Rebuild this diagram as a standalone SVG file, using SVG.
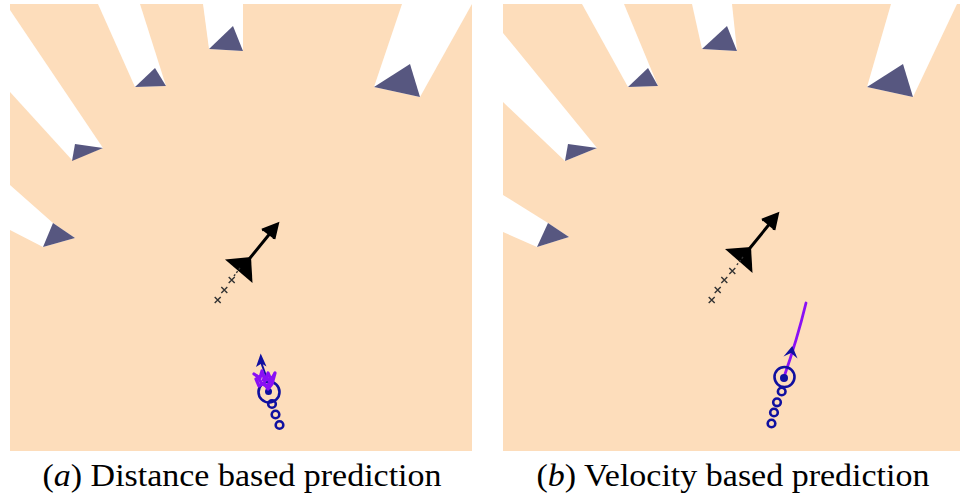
<svg xmlns="http://www.w3.org/2000/svg" width="960" height="499" viewBox="0 0 960 499">
<defs>
<style>
.bg{fill:#FDDDBB}
.beam{fill:#FFFFFF}
.obs{fill:#575780}
.robot{fill:#000000}
.shaft{stroke:#000000;stroke-width:3;fill:none;stroke-linecap:round}
.head{stroke:#000000;stroke-width:2.8;fill:#000000;stroke-linejoin:miter}
.xm{stroke:#333333;stroke-width:1.4;fill:none}
.dash{stroke:#333333;stroke-width:1.4;stroke-dasharray:2 2;fill:none}
.ring{stroke:#1010A0;stroke-width:2.6;fill:none}
.dot{fill:#1010A0}
.barrow{fill:#1010A0}
.purple{stroke:#8A10F5;fill:none;stroke-linecap:round;stroke-linejoin:round}
.cap{font-family:"Liberation Serif","Times New Roman",serif;font-size:32px;fill:#000000}
</style>
</defs>

<g id="panel-a">
  <rect class="bg" x="10" y="4" width="462" height="447"/>
  <g id="a-beams">
    <polygon class="beam" points="10,10 103,148 72,160 10,92"/>
    <polygon class="beam" points="98,4 140,4 166,86 135,87"/>
    <polygon class="beam" points="203,4 243,4 243,51 209,49"/>
    <polygon class="beam" points="402,4 472,4 420,97 374,87"/>
    <polygon class="beam" points="10,185 53,223 75,238 43,247 10,230"/>
  </g>
  <g id="a-obstacles">
    <polygon class="obs" points="75,144 103,148 72,161"/>
    <polygon class="obs" points="135,87 166,86 155,68"/>
    <polygon class="obs" points="209,49 243,51 233,26"/>
    <polygon class="obs" points="374,87 420,97 410,64"/>
    <polygon class="obs" points="43,247 75,238 53,223"/>
  </g>
  <g id="a-robot-black">
    <polygon class="robot" points="225,259.5 251,257 252.5,283"/>
    <line class="shaft" x1="250" y1="258" x2="276" y2="226"/>
    <polyline class="head" points="262,230 277.5,224 274,239"/>
    <line class="dash" x1="240" y1="268" x2="234" y2="276"/>
    <path class="xm" d="M228.7,277l6,6M234.7,277l-6,6 M221.3,287l6,6M227.3,287l-6,6 M214.7,297l6,6M220.7,297l-6,6"/>
  </g>
  <g id="a-robot-blue">
    <line x1="261" y1="362" x2="266" y2="376" stroke="#1010A0" stroke-width="2"/>
    <polygon class="barrow" points="260.7,353.5 256,367 261.5,363.5 266.5,366.5"/>
    <circle class="ring" cx="269" cy="392" r="10.5"/>
    <circle class="dot" cx="268.5" cy="391.5" r="3.5"/>
    <circle class="ring" cx="272" cy="404" r="3.8"/>
    <circle class="ring" cx="275.5" cy="414.5" r="3.8"/>
    <circle class="ring" cx="279.5" cy="425" r="3.8"/>
    <polyline class="purple" stroke-width="3.2" points="254,374 260,378 262,371 265,381 268,373 271,380 275,373 272,384 268,389 264,383 259,386 256,379"/>
    <polyline class="purple" stroke-width="3" points="257,376 262,384 267,386 270,382 266,377 263,380"/>
  </g>
</g>

<g id="panel-b">
  <rect class="bg" x="503" y="4" width="457" height="447"/>
  <g id="b-beams">
    <polygon class="beam" points="503,33 597,148 565,161 503,102"/>
    <polygon class="beam" points="582,4 624,4 658,86 628,87"/>
    <polygon class="beam" points="692,4 732,4 737,51 702,49"/>
    <polygon class="beam" points="891,4 957,4 913,97 867,87"/>
    <polygon class="beam" points="503,195 548,223 569,237 537,247 503,232"/>
  </g>
  <g id="b-obstacles">
    <polygon class="obs" points="568,144 597,148 565,161"/>
    <polygon class="obs" points="628,87 658,86 648,68"/>
    <polygon class="obs" points="702,49 737,51 727,26"/>
    <polygon class="obs" points="867,87 913,97 903,64"/>
    <polygon class="obs" points="537,247 569,237 548,223"/>
  </g>
  <g id="b-robot-black">
    <polygon class="robot" points="725,249 751,247 752.5,273"/>
    <line class="shaft" x1="750" y1="248" x2="776" y2="216"/>
    <polyline class="head" points="762,220 777.5,214 774,230"/>
    <line class="dash" x1="743" y1="257" x2="736" y2="266"/>
    <path class="xm" d="M729.3,268l6,6M735.3,268l-6,6 M721.3,277l6,6M727.3,277l-6,6 M714.7,287l6,6M720.7,287l-6,6 M708.7,297l6,6M714.7,297l-6,6"/>
  </g>
  <g id="b-robot-blue">
    <path class="purple" stroke-width="2.8" d="M806,303 Q797,340 784,377"/>
    <polygon class="barrow" points="792.3,346 783.5,356.5 791,353 797.5,358.5"/>
    <circle class="ring" cx="784.5" cy="377" r="10"/>
    <circle class="dot" cx="784" cy="378" r="4"/>
    <circle class="ring" cx="781.7" cy="391.5" r="3.8"/>
    <circle class="ring" cx="777" cy="402.3" r="3.8"/>
    <circle class="ring" cx="774" cy="412.5" r="3.8"/>
    <circle class="ring" cx="771.5" cy="423.5" r="3.8"/>
  </g>
</g>

<g id="captions">
  <text class="cap" x="242" y="486" text-anchor="middle" textLength="399" lengthAdjust="spacingAndGlyphs">(<tspan font-style="italic">a</tspan>) Distance based prediction</text>
  <text class="cap" x="733" y="486" text-anchor="middle" textLength="393" lengthAdjust="spacingAndGlyphs">(<tspan font-style="italic">b</tspan>) Velocity based prediction</text>
</g>
</svg>
